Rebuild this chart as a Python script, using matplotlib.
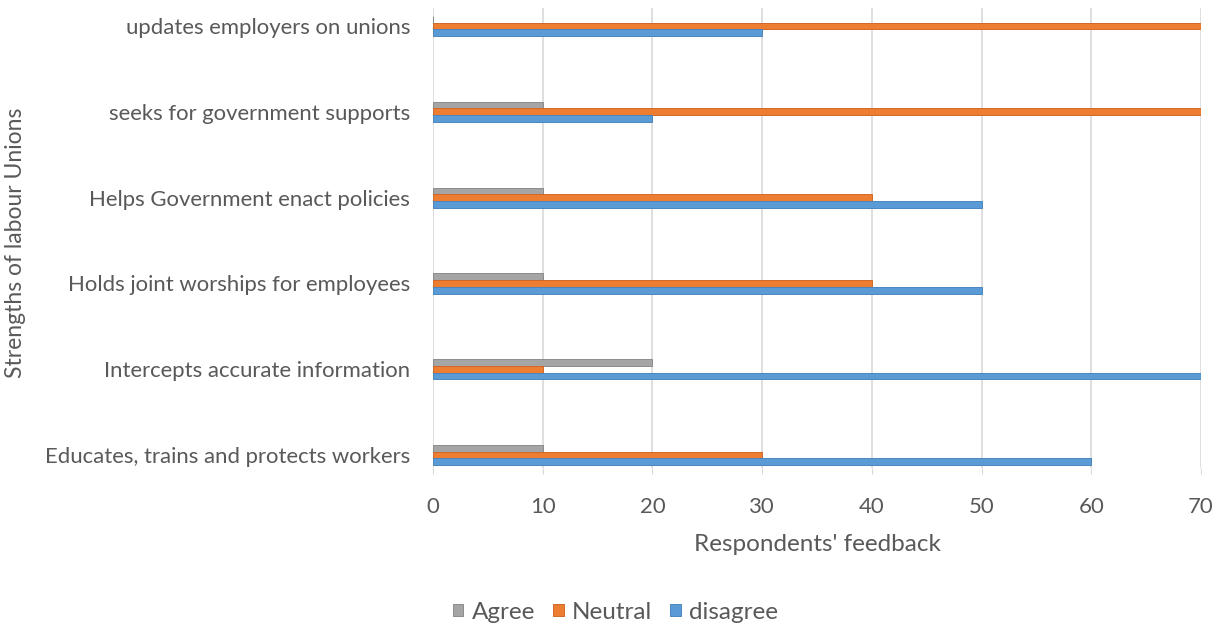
import numpy as np
import matplotlib.pyplot as plt

plt.rcParams['font.family'] = ['Lato', 'DejaVu Sans']

# Survey responses per statement (bottom to top)
categories = [
    "Educates, trains and protects workers",
    "Intercepts accurate information",
    "Holds joint worships for employees",
    "Helps Government enact policies",
    "seeks for government supports",
    "updates employers on unions",
]
agree = [10, 20, 10, 10, 10, 0]
neutral = [30, 10, 40, 40, 70, 70]
disagree = [60, 70, 50, 50, 20, 30]

text_col = "#595959"
y = np.arange(len(categories))
h = 0.078

fig = plt.figure(figsize=(12.19, 6.28), dpi=100)
ax = fig.add_axes([0.3552, 0.2548, 0.63, 0.7325])

ax.barh(y + h, agree, height=h, color="#a5a5a5", edgecolor="#8c8c8c",
        linewidth=0.7, label="Agree", zorder=3)
ax.barh(y, neutral, height=h, color="#ed7d31", edgecolor="#d0692a",
        linewidth=0.7, label="Neutral", zorder=3)
ax.barh(y - h, disagree, height=h, color="#5b9bd5", edgecolor="#4a86bd",
        linewidth=0.7, label="disagree", zorder=3)

ax.set_xlim(0, 70)
ax.set_ylim(-0.15, 5.21)
ax.set_xticks(range(0, 71, 10))
ax.set_yticks(y)
ax.set_yticklabels(categories)

ax.grid(axis="x", color="#d9d9d9", linewidth=1.2, zorder=0)
for s in ax.spines.values():
    s.set_visible(False)
ax.tick_params(axis="x", length=4, color="#d9d9d9", labelsize=15.9,
               labelcolor=text_col, pad=17)
ax.tick_params(axis="y", length=0, labelsize=15.9, labelcolor=text_col, pad=16.5)

ax.set_xlabel("Respondents' feedback", fontsize=17.5, color=text_col, labelpad=12)
ax.set_ylabel("Strengths of labour Unions", fontsize=16.5, color=text_col)
ax.yaxis.set_label_coords(-0.53, 0.49)

fig.legend(loc="center", bbox_to_anchor=(0.505, 0.025), ncol=3, frameon=False,
           fontsize=17.5, labelcolor=text_col, handlelength=0.42, handleheight=0.42,
           handletextpad=0.35, columnspacing=0.75)

fig.savefig("out.png", dpi=100)
